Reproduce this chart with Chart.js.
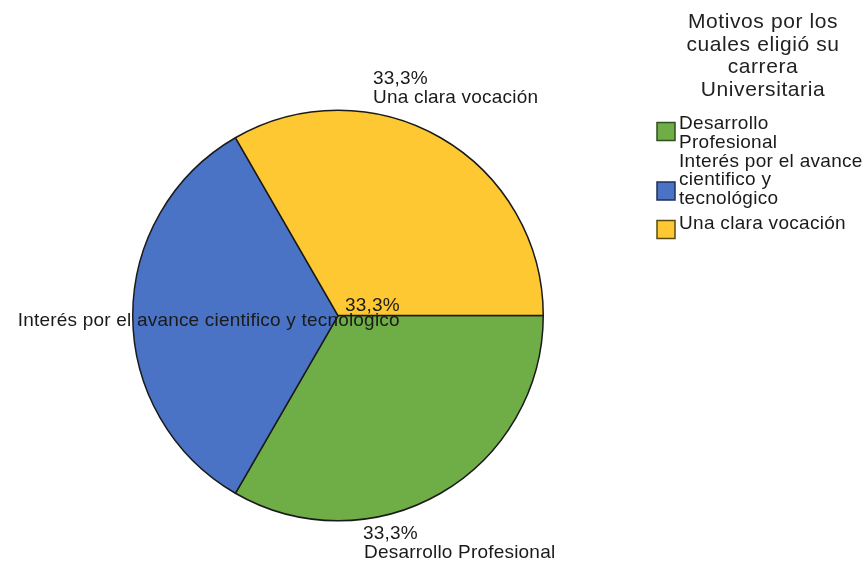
<!DOCTYPE html>
<html>
<head>
<meta charset="utf-8">
<script src="https://cdn.jsdelivr.net/npm/chart.js@4"></script>
<style>
  html, body { margin: 0; padding: 0; background: #ffffff; }
  #wrap { width: 867px; height: 563px; }
</style>
</head>
<body>
<div id="wrap"><canvas id="c" width="867" height="563"></canvas></div>
<script>
// ---- data ----
const categories = ['Desarrollo Profesional', 'Interés por el avance cientifico y tecnológico', 'Una clara vocación'];
const sliceNames = ['Desarrollo Profesional', 'Interés por el avance cientifico y tecnologico', 'Una clara vocación'];
const percentages = [33.3, 33.3, 33.3];
const percentLabels = ['33,3%', '33,3%', '33,3%'];
const legendTitleLines = ['Motivos por los', 'cuales eligió su', 'carrera', 'Universitaria'];
const legendLines = [['Desarrollo', 'Profesional'], ['Interés por el avance', 'cientifico y', 'tecnológico'], ['Una clara vocación']];

// ---- styles ----
const sliceColors = ['#6fad46', '#4a72c5', '#fec832'];
const sliceBorders = ['#2f4f1e', '#1f2f5a', '#5a4a10'];
const FONT = '"Liberation Sans", Arial, sans-serif';

function setSpacing(ctx, v) {
  if ('letterSpacing' in ctx) ctx.letterSpacing = v;
}

const labelPlugin = {
  id: 'sliceLabels',
  afterDatasetsDraw(chart) {
    const ctx = chart.ctx;
    const arcs = chart.getDatasetMeta(0).data;
    if (!arcs.length) return;
    const cx = arcs[0].x, cy = arcs[0].y, r = arcs[0].outerRadius;
    // label placement per slice (relative to the pie geometry)
    const place = [
      { px: cx + 25, py: cy + r + 18.5, nx: cx + 26, ny: cy + r + 37 },
      { px: cx + 7, py: cy - 4.5, nx: cx - r - 115, ny: cy + 10.5 },
      { px: cx + 35, py: cy - r - 26.5, nx: cx + 35, ny: cy - r - 7.5 }
    ];
    ctx.save();
    ctx.fillStyle = '#1a1a1a';
    ctx.font = '19px ' + FONT;
    setSpacing(ctx, '0.2px');
    ctx.textAlign = 'left';
    ctx.textBaseline = 'alphabetic';
    for (let i = 0; i < arcs.length; i++) {
      const p = place[i];
      ctx.fillText(percentLabels[i], p.px, p.py);
      ctx.fillText(sliceNames[i], p.nx, p.ny);
    }
    ctx.restore();
  }
};

const legendPlugin = {
  id: 'sideLegend',
  afterDraw(chart) {
    const ctx = chart.ctx;
    ctx.save();
    ctx.fillStyle = '#222222';
    ctx.font = '21px ' + FONT;
    setSpacing(ctx, '0.6px');
    ctx.textAlign = 'center';
    ctx.textBaseline = 'alphabetic';
    const titleBase = [28, 50.5, 73, 95.5];
    legendTitleLines.forEach((t, i) => ctx.fillText(t, 763, titleBase[i]));

    const boxY = [122.5, 182, 220.5];
    const textBase = [[129, 147.5], [166.5, 185, 203.5], [228.5]];
    ctx.font = '19px ' + FONT;
    setSpacing(ctx, '0.3px');
    ctx.textAlign = 'left';
    for (let i = 0; i < categories.length; i++) {
      ctx.fillStyle = sliceColors[i];
      ctx.fillRect(657, boxY[i], 18, 18);
      ctx.strokeStyle = sliceBorders[i];
      ctx.lineWidth = 1.5;
      ctx.strokeRect(657, boxY[i], 18, 18);
      ctx.fillStyle = '#1a1a1a';
      legendLines[i].forEach((t, j) => ctx.fillText(t, 679, textBase[i][j]));
    }
    ctx.restore();
  }
};

new Chart(document.getElementById('c'), {
  type: 'pie',
  data: {
    labels: categories,
    datasets: [{
      data: percentages,
      backgroundColor: sliceColors,
      borderColor: '#1a1a1a',
      borderWidth: 1.5,
      hoverOffset: 0,
      offset: 0
    }]
  },
  options: {
    responsive: false,
    animation: false,
    events: [],
    rotation: 90,
    layout: { padding: { left: 132, right: 323, top: 109.5, bottom: 41.5 } },
    plugins: {
      legend: { display: false },
      tooltip: { enabled: false },
      title: { display: false }
    }
  },
  plugins: [labelPlugin, legendPlugin]
});
</script>
</body>
</html>
